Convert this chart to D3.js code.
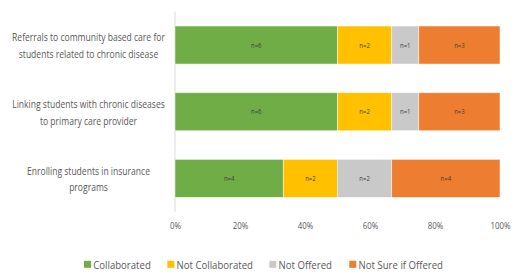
<!DOCTYPE html>
<html>
<head>
<meta charset="utf-8">
<script src="https://cdn.jsdelivr.net/npm/d3@7"></script>
<style>
  body { margin: 0; background: #fff; }
  svg text { font-family: "Open Sans", Lato, sans-serif; }
</style>
</head>
<body>
<div class="Canvas"></div>
<script>
// categories (top to bottom), each label split into lines
const categories = [
    ['Referrals to community based care for', 'students related to chronic disease'],
    ['Linking students with chronic diseases', 'to primary care provider'],
    ['Enrolling students in insurance', 'programs'],
];
const seriesNames = ['Collaborated', 'Not Collaborated', 'Not Offered', 'Not Sure if Offered'];
const seriesColors = ['#70AD47', '#FFC000', '#C9C9C9', '#ED7D31'];
// counts per category, in series order
const counts = [
    [6, 2, 1, 3],
    [6, 2, 1, 3],
    [4, 2, 2, 4],
];
const tickValues = [0, 0.2, 0.4, 0.6, 0.8, 1];

const width = 515;
const height = 275;
const margin = { left: 175, right: 15, top: 11.7, bottom: 63.3 };

let svg = d3.select('.Canvas').append('svg').attr('width', width).attr('height', height);

let x = d3.scaleLinear().domain([0, 1]).range([margin.left, width - margin.right]);
let y = d3.scaleBand()
    .domain(d3.range(categories.length))
    .range([margin.top, height - margin.bottom])
    .paddingInner(0.43)
    .paddingOuter(0.215);

// squeeze text horizontally (Calibri-like narrow look): widest item of sel -> target px
function squeeze(sel, target) {
    let w = d3.max(sel.nodes(), (n) => n.getComputedTextLength());
    let s = target / w;
    sel.each(function () {
        let t = d3.select(this);
        let x0 = +t.attr('x');
        t.attr('transform', `translate(${x0},0) scale(${s},1)`).attr('x', 0);
    });
}

// build stacked segments as shares of each row's total
let rows = counts.map((c) => {
    let total = d3.sum(c);
    let acc = 0;
    return c.map((v, i) => {
        let seg = { series: i, n: v, x0: acc / total, x1: (acc + v) / total };
        acc += v;
        return seg;
    });
});

// vertical axis line
svg.append('line')
    .attr('x1', x(0)).attr('x2', x(0))
    .attr('y1', margin.top).attr('y2', height - margin.bottom)
    .attr('stroke', '#d9d9d9').attr('stroke-width', 1);

let rowG = svg.selectAll('g.row')
    .data(rows)
    .enter()
    .append('g')
    .attr('class', 'row')
    .attr('transform', (d, i) => `translate(0,${y(i)})`);

rowG.selectAll('rect')
    .data((d) => d)
    .enter()
    .append('rect')
    .attr('x', (d) => x(d.x0))
    .attr('width', (d) => x(d.x1) - x(d.x0))
    .attr('y', 0)
    .attr('height', y.bandwidth())
    .attr('fill', (d) => seriesColors[d.series])
    .attr('stroke', '#fff')
    .attr('stroke-opacity', 0.6)
    .attr('stroke-width', 0.8);

let segLabels = rowG.selectAll('text')
    .data((d) => d)
    .enter()
    .append('text')
    .attr('x', (d) => (x(d.x0) + x(d.x1)) / 2)
    .attr('y', y.bandwidth() / 2)
    .attr('text-anchor', 'middle')
    .attr('dominant-baseline', 'central')
    .attr('font-size', '7.5px')
    .attr('fill', '#404040')
    .text((d) => `n=${d.n}`);
squeeze(segLabels, 10.5);

// category labels
let catG = svg.selectAll('g.cat')
    .data(categories)
    .enter()
    .append('g')
    .attr('class', 'cat');
let catText = catG.selectAll('text')
    .data((d, i) => d.map((line, j) => ({ line, j, i, n: d.length })))
    .enter()
    .append('text')
    .attr('x', 88.5)
    .attr('y', (d) => y(d.i) + y.bandwidth() / 2 + (d.j - (d.n - 1) / 2) * 16.6)
    .attr('text-anchor', 'middle')
    .attr('dominant-baseline', 'central')
    .attr('font-size', '11.5px')
    .attr('fill', '#595959')
    .text((d) => d.line);
squeeze(svg.selectAll('g.cat text'), 153);

// x axis tick labels
let xAxis = d3.axisBottom(x).tickValues(tickValues).tickFormat(d3.format('.0%')).tickSize(0).tickPadding(0);
let axG = svg.append('g')
    .attr('transform', `translate(0,${height - margin.bottom + 11})`)
    .call(xAxis);
axG.select('.domain').remove();
let tickText = axG.selectAll('text')
    .attr('font-size', '9.5px')
    .attr('fill', '#595959')
    .attr('font-family', '"Open Sans", sans-serif');
tickText.attr('x', 0);
squeeze(tickText, 20);

// legend
const legendX = [84, 167.3, 269.3, 349.3];
let leg = svg.selectAll('g.legend')
    .data(seriesNames)
    .enter()
    .append('g')
    .attr('class', 'legend')
    .attr('transform', (d, i) => `translate(${legendX[i]},264.3)`);
leg.append('rect')
    .attr('x', 0).attr('y', -3.5)
    .attr('width', 7).attr('height', 7)
    .attr('fill', (d, i) => seriesColors[i]);
leg.append('text')
    .attr('x', 9.3)
    .attr('y', 0)
    .attr('dominant-baseline', 'central')
    .attr('font-size', '11.5px')
    .attr('fill', '#595959')
    .text((d) => d);
squeeze(svg.selectAll('g.legend text'), 84.4);
</script>
</body>
</html>
